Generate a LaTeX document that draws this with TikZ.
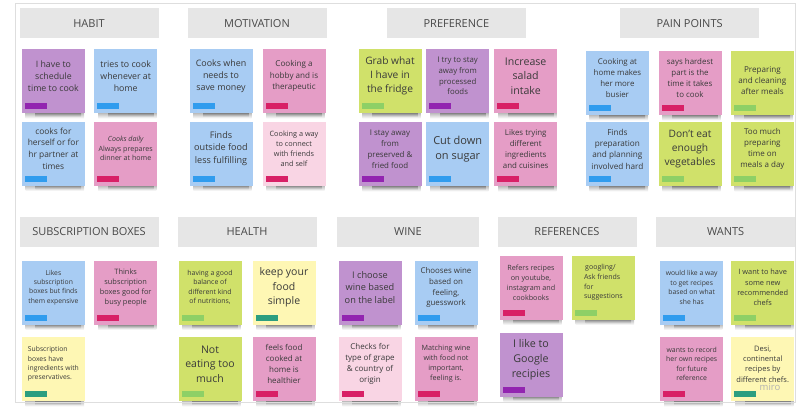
\documentclass[tikz,border=0pt]{standalone}
\usepackage{fontspec}
\setmainfont{Open Sans}
\usepackage{xcolor}
\usepackage{tikz}
\usetikzlibrary{backgrounds}
\definecolor{framegray}{RGB}{222,222,222}
\definecolor{headgray}{RGB}{230,230,230}
\definecolor{headink}{RGB}{72,72,72}
\definecolor{inkgray}{RGB}{58,58,58}
\definecolor{vio}{RGB}{192,146,207}
\definecolor{viotag}{RGB}{146,36,176}
\definecolor{blu}{RGB}{168,204,243}
\definecolor{blutag}{RGB}{48,156,238}
\definecolor{pnk}{RGB}{229,157,198}
\definecolor{lpnk}{RGB}{249,213,228}
\definecolor{pnktag}{RGB}{216,32,102}
\definecolor{lim}{RGB}{208,225,106}
\definecolor{limtag}{RGB}{142,208,102}
\definecolor{ylw}{RGB}{254,247,180}
\definecolor{ylwtag}{RGB}{44,158,128}
\definecolor{mirogray}{RGB}{178,178,178}
\tikzset{
  board/.style={draw=framegray, line width=.8pt},
  header/.style={anchor=north west, fill=headgray, minimum width=139pt,
                 minimum height=30pt, inner sep=0pt, text=headink,
                 font=\fontsize{11}{13}\selectfont},
  sticky/.style 2 args={anchor=north west, minimum width=63pt, minimum height=64pt,
                 inner sep=0pt, fill=#1,
                 path picture={\fill[#2] ([shift={(3pt,4pt)}]path picture bounding box.south west)
                                 rectangle +(22pt,6pt);}},
  vionote/.style={sticky={vio}{viotag}},
  bluenote/.style={sticky={blu}{blutag}},
  pinknote/.style={sticky={pnk}{pnktag}},
  lpinknote/.style={sticky={lpnk}{pnktag}},
  limenote/.style={sticky={lim}{limtag}},
  ylwnote/.style={sticky={ylw}{ylwtag}},
  notelabel/.style={anchor=center, yshift=-27pt, inner sep=0pt, text=inkgray},
  txt/.style 2 args={label={[notelabel, align=center,
                 font=\fontsize{#1}{\fpeval{1.38*#1}}\selectfont]above:{#2}}},
  ltxt/.style 2 args={label={[notelabel, align=left,
                 font=\fontsize{#1}{\fpeval{1.38*#1}}\selectfont]above:{#2}}},
}

\begin{document}
\begin{tikzpicture}[x=1pt, y=-1pt]
  \path[use as bounding box] (0,0) rectangle (812,418);
  \draw[board] (15,3) rectangle (795.5,402);

  % headers
  \node[header] (hHabit) at (19.3,8) {HABIT};
  \node[header] (hMotiv) at (187.3,8) {MOTIVATION};
  \node[header] (hPref) at (386.7,8) {PREFERENCE};
  \node[header] (hPain) at (620,8) {PAIN POINTS};
  \node[header] (hSubs) at (19.3,216.7) {SUBSCRIPTION BOXES};
  \node[header] (hHealth) at (177.3,216.7) {HEALTH};
  \node[header, minimum width=142pt] (hWine) at (336.7,216.7) {WINE};
  \node[header] (hRef) at (497.3,216.7) {REFERENCES};
  \node[header] (hWants) at (656,216.7) {WANTS};

  % habit
  \node[vionote, txt={8.8}{I have to\\schedule\\time to cook}] (hab1) at (21.7,49) {};
  \node[bluenote, txt={8.8}{tries to cook\\whenever at\\home}] (hab2) at (94,49) {};
  \node[bluenote, txt={8.4}{cooks for\\herself or for\\hr partner at\\times}] (hab3) at (21.7,121.5) {};
  \node[pinknote, txt={7.1}{\itshape Cooks daily\\Always prepares\\dinner at home}] (hab4) at (94,121.5) {};

  % motivation
  \node[bluenote, txt={8.9}{Cooks when\\needs to\\save money}] (mot1) at (189.3,49) {};
  \node[pinknote, txt={8.1}{Cooking a\\hobby and is\\therapeutic}] (mot2) at (262.3,49) {};
  \node[bluenote, txt={9.1}{Finds\\outside food\\less fulfilling}] (mot3) at (189.3,121.5) {};
  \node[lpinknote, txt={7.3}{Cooking a way\\to connect\\with friends\\and self}] (mot4) at (262.3,121.5) {};

  % preference
  \node[limenote, txt={10.2}{Grab what\\I have in\\the fridge}] (pref1) at (358.3,49) {};
  \node[vionote, txt={7.8}{I try to stay\\away from\\processed\\foods}] (pref2) at (426,49) {};
  \node[pinknote, txt={10.6}{Increase\\salad\\intake}] (pref3) at (494,49) {};
  \node[vionote, txt={7.9}{I stay away\\from\\preserved \&\\fried food}] (pref4) at (358.3,122) {};
  \node[bluenote, txt={11}{Cut down\\on sugar}] (pref5) at (426,122) {};
  \node[pinknote, txt={7.9}{Likes trying\\different\\ingredients\\and cuisines}] (pref6) at (494,122) {};

  % pain points
  \node[bluenote, txt={7.9}{Cooking at\\home makes\\her more\\busier}] (pain1) at (585.7,51) {};
  \node[pinknote, txt={7.9}{says hardest\\part is the\\time it takes\\to cook}] (pain2) at (658.3,51) {};
  \node[limenote, txt={8.1}{\mbox{}\\Preparing\\and cleaning\\after meals}] (pain3) at (730.7,51) {};
  \node[bluenote, txt={8.2}{Finds\\preparation\\and planning\\involved hard}] (pain4) at (585.7,122) {};
  \node[limenote, txt={10.2}{Don’t eat\\enough\\vegetables}] (pain5) at (658.3,122) {};
  \node[limenote, txt={8}{Too much\\preparing\\time on\\meals a day}] (pain6) at (730.7,122) {};

  % subscription boxes
  \node[bluenote, txt={6.8}{Likes\\subscription\\boxes but finds\\them expensive}] (sub1) at (21.7,260.5) {};
  \node[pinknote, txt={7.4}{Thinks\\subscription\\boxes good for\\busy people}] (sub2) at (94,260.5) {};
  \node[ylwnote, ltxt={6.8}{Subscription\\boxes have\\ingredients with\\preservatives.}] (sub3) at (21.7,337) {};

  % health
  \node[limenote, txt={6.9}{having a good\\balance of\\different kind\\of nutritions,}] (hlth1) at (178.3,260.5) {};
  \node[ylwnote, txt={10.5}{keep your\\food\\simple}] (hlth2) at (252.3,260.5) {};
  \node[limenote, txt={10.5}{Not\\eating too\\much}] (hlth3) at (178.3,337) {};
  \node[pinknote, txt={8}{feels food\\cooked at\\home is\\healthier}] (hlth4) at (252.3,337) {};

  % wine
  \node[vionote, txt={9.2}{I choose\\wine based\\on the label}] (wine1) at (338.3,260.5) {};
  \node[bluenote, txt={7.9}{Chooses wine\\based on\\feeling,\\guesswork}] (wine2) at (414.3,260.5) {};
  \node[lpinknote, txt={8}{Checks for\\type of grape\\\& country of\\origin}] (wine3) at (338.3,337) {};
  \node[pinknote, txt={7.2}{Matching wine\\with food not\\important,\\feeling is.}] (wine4) at (414.3,337) {};

  % references
  \node[pinknote, txt={7.2}{Refers recipes\\on youtube,\\instagram and\\cookbooks}] (ref1) at (499.3,255.5) {};
  \node[limenote, ltxt={7}{\,googling/\\Ask friends\\for\\suggestions}] (ref2) at (571.7,255.5) {};
  \node[vionote, txt={10.7}{I like to\\Google\\recipies}] (ref3) at (499.3,332.5) {};

  % wants
  \node[bluenote, txt={6.8}{would like a way\\to get recipes\\based on what\\she has}] (want1) at (660,260.5) {};
  \node[limenote, txt={7.4}{I want to have\\some new\\recommended\\chefs}] (want2) at (731,260.5) {};
  \node[pinknote, txt={6.9}{wants to record\\her own recipes\\for future\\reference}] (want3) at (660,337) {};
  \node[ylwnote, txt={7.5}{Desi,\\continental\\recipes by\\different chefs.}] (want4) at (731,337) {};

  \node[text=mirogray, font=\fontsize{9.5}{11}\selectfont] (miro) at (770,387) {miro};

  % soft shadows under the stickies
  \begin{pgfonlayer}{background}
    \foreach \n in {hab1,hab2,hab3,hab4,mot1,mot2,mot3,mot4,pref1,pref2,pref3,pref4,pref5,pref6,
                    pain1,pain2,pain3,pain4,pain5,pain6,sub1,sub2,sub3,hlth1,hlth2,hlth3,hlth4,
                    wine1,wine2,wine3,wine4,ref1,ref2,ref3,want1,want2,want3,want4} {
      \shade[top color=black!85, bottom color=white, opacity=.35]
        ([xshift=4pt,yshift=1pt]\n.south west) rectangle ([xshift=-1pt,yshift=-5pt]\n.south east);
      \shade[top color=black!85, bottom color=white, opacity=.45]
        ([xshift=14pt,yshift=1pt]\n.south west) rectangle ([xshift=-4pt,yshift=-4pt]\n.south east);
    }
  \end{pgfonlayer}
\end{tikzpicture}
\end{document}
